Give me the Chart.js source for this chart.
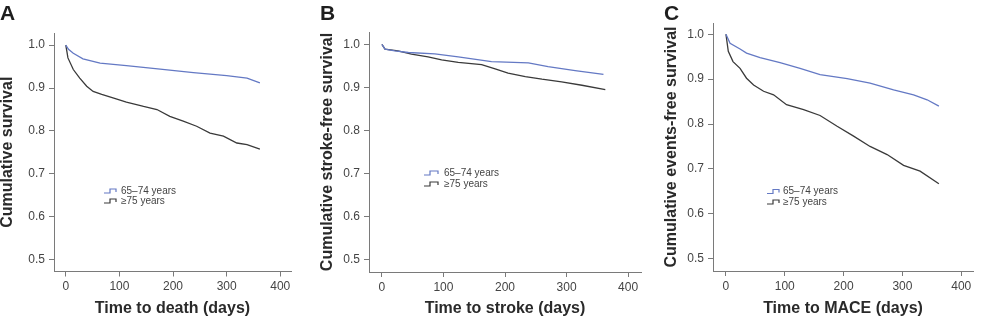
<!DOCTYPE html>
<html>
<head>
<meta charset="utf-8">
<script src="https://cdn.jsdelivr.net/npm/chart.js@4.4.1/dist/chart.umd.min.js"></script>
<style>
  html, body { margin: 0; padding: 0; background: #ffffff; }
  body { width: 982px; height: 324px; position: relative; overflow: hidden; }
  canvas { position: absolute; top: 0; }
</style>
</head>
<body>
<canvas id="cA" width="320" height="324" style="left:0px;width:320px;height:324px"></canvas>
<canvas id="cB" width="330" height="324" style="left:320px;width:330px;height:324px"></canvas>
<canvas id="cC" width="332" height="324" style="left:650px;width:332px;height:324px"></canvas>
<script>
// ---------------- DATA ----------------
const seriesLabels = ['65\u201374 years', '\u226575 years'];
const xTickValues = [0, 100, 200, 300, 400];
const yTickValues = [0.5, 0.6, 0.7, 0.8, 0.9, 1.0];

// Panel A: Time to death
const timeA65 = [0, 5, 14, 32, 64, 113, 176, 238, 300, 338, 362];
const survA65 = [1.0, 0.990, 0.981, 0.968, 0.958, 0.952, 0.944, 0.936, 0.929, 0.923, 0.912];
const timeA75 = [0, 2, 4, 14, 26, 39, 51, 67, 88, 113, 145, 170, 194, 219, 244, 269, 294, 319, 338, 362];
const survA75 = [1.0, 0.985, 0.970, 0.943, 0.923, 0.904, 0.892, 0.885, 0.877, 0.867, 0.857, 0.850, 0.834, 0.823, 0.811, 0.795, 0.788, 0.772, 0.768, 0.758];

// Panel B: Time to stroke
const timeB65 = [0, 5, 21, 43, 86, 124, 178, 238, 270, 314, 360];
const survB65 = [1.0, 0.989, 0.985, 0.981, 0.978, 0.971, 0.960, 0.957, 0.948, 0.939, 0.930];
const timeB75 = [0, 5, 26, 48, 75, 97, 124, 162, 184, 205, 233, 260, 292, 325, 363];
const survB75 = [1.0, 0.989, 0.985, 0.977, 0.971, 0.964, 0.958, 0.953, 0.943, 0.933, 0.925, 0.919, 0.913, 0.905, 0.895];

// Panel C: Time to MACE
const timeC65 = [0, 7, 24, 35, 58, 92, 126, 160, 206, 245, 285, 319, 342, 362];
const survC65 = [1.0, 0.980, 0.967, 0.958, 0.948, 0.937, 0.924, 0.910, 0.901, 0.891, 0.876, 0.865, 0.854, 0.840];
const timeC75 = [0, 4, 12, 24, 35, 47, 64, 81, 103, 132, 160, 189, 217, 245, 274, 302, 330, 362];
const survC75 = [1.0, 0.962, 0.939, 0.924, 0.902, 0.887, 0.873, 0.865, 0.843, 0.832, 0.819, 0.795, 0.773, 0.750, 0.732, 0.708, 0.695, 0.667];

// ---------------- STYLE ----------------
const COLOR_YOUNG = '#6479c4';
const COLOR_OLD = '#3a3a3a';
const AXIS_COLOR = '#7a7a7a';
const TICK_TEXT = '#444444';
const TITLE_TEXT = '#2a2a2a';
const FONT_FAMILY = '"Liberation Sans", Arial, Helvetica, sans-serif';

Chart.defaults.font.family = FONT_FAMILY;
Chart.defaults.color = TICK_TEXT;

function toPoints(t, s) { return t.map((v, i) => ({ x: v, y: s[i] })); }

const panelDecor = {
  id: 'panelDecor',
  afterDraw(chart, args, o) {
    const ctx = chart.ctx;
    ctx.save();
    ctx.fillStyle = '#1e1e1e';
    ctx.font = 'bold 21px ' + FONT_FAMILY;
    ctx.textBaseline = 'alphabetic';
    ctx.textAlign = 'left';
    ctx.fillText(o.letter, o.letterX, o.letterY);
    ctx.font = '10px ' + FONT_FAMILY;
    ctx.textBaseline = 'middle';
    chart.data.datasets.forEach((ds, i) => {
      const x = o.legX, y = o.legY + i * o.legGap;
      ctx.strokeStyle = ds.borderColor;
      ctx.lineWidth = 1.2;
      ctx.beginPath();
      ctx.moveTo(x, y + 2);
      ctx.lineTo(x + 6, y + 2);
      ctx.lineTo(x + 6, y - 2);
      ctx.lineTo(x + o.symW, y - 2);
      ctx.lineTo(x + o.symW, y + 1);
      ctx.stroke();
      ctx.fillStyle = TICK_TEXT;
      ctx.fillText(ds.label, x + o.textOff, y);
    });
    ctx.restore();
  }
};

function makePanel(id, p) {
  const ctx = document.getElementById(id).getContext('2d');
  return new Chart(ctx, {
    type: 'line',
    data: {
      datasets: [
        { label: seriesLabels[0], data: toPoints(p.t65, p.s65), borderColor: COLOR_YOUNG, borderWidth: 1.3, pointRadius: 0, tension: 0, fill: false },
        { label: seriesLabels[1], data: toPoints(p.t75, p.s75), borderColor: COLOR_OLD, borderWidth: 1.3, pointRadius: 0, tension: 0, fill: false }
      ]
    },
    options: {
      responsive: false,
      animation: false,
      events: [],
      layout: { padding: { left: 0, top: p.top, right: p.right, bottom: 0 } },
      plugins: {
        legend: { display: false },
        tooltip: { enabled: false },
        panelDecor: p.decor
      },
      scales: {
        x: {
          type: 'linear',
          min: p.xmin, max: p.xmax,
          afterFit: (s) => { s.height = p.xh; },
          afterBuildTicks: (s) => { s.ticks = xTickValues.map(v => ({ value: v })); },
          ticks: { includeBounds: false, font: { size: 12 }, color: TICK_TEXT, padding: 3, maxRotation: 0, callback: (v) => String(v) },
          grid: { display: true, drawOnChartArea: false, drawTicks: true, tickLength: 5, color: AXIS_COLOR, lineWidth: 1 },
          border: { display: true, color: AXIS_COLOR, width: 1 },
          title: { display: true, text: p.xTitle, color: TITLE_TEXT, font: { size: 16, weight: 'bold', lineHeight: 1 }, padding: { top: 0, bottom: 7 } }
        },
        y: {
          type: 'linear',
          min: p.ymin, max: p.ymax,
          afterFit: (s) => { s.width = p.yw; },
          afterBuildTicks: (s) => { s.ticks = yTickValues.map(v => ({ value: v })); },
          ticks: { includeBounds: false, font: { size: 12 }, color: TICK_TEXT, padding: 4, callback: (v) => Number(v).toFixed(1) },
          grid: { display: true, drawOnChartArea: false, drawTicks: true, tickLength: 5, color: AXIS_COLOR, lineWidth: 1 },
          border: { display: true, color: AXIS_COLOR, width: 1 },
          title: { display: true, text: p.yTitle, color: TITLE_TEXT, font: { size: 16, weight: 'bold', lineHeight: 1 }, padding: { top: p.yTitlePad, bottom: 0 } }
        }
      }
    },
    plugins: [panelDecor]
  });
}

makePanel('cA', {
  t65: timeA65, s65: survA65, t75: timeA75, s75: survA75,
  xmin: -22, xmax: 420, ymin: 0.473, ymax: 1.028,
  top: 33, right: 29, yw: 54, xh: 52.5,
  xTitle: 'Time to death (days)', yTitle: 'Cumulative survival', yTitlePad: 0,
  decor: { letter: 'A', letterX: 0, letterY: 20, legX: 104, legY: 191, legGap: 10, symW: 12, textOff: 17 }
});

makePanel('cB', {
  t65: timeB65, s65: survB65, t75: timeB75, s75: survB75,
  xmin: -21, xmax: 421, ymin: 0.4715, ymax: 1.0286,
  top: 32, right: 9, yw: 49, xh: 52,
  xTitle: 'Time to stroke (days)', yTitle: 'Cumulative stroke-free survival', yTitlePad: 0,
  decor: { letter: 'B', letterX: 0, letterY: 20, legX: 104, legY: 173, legGap: 11, symW: 14, textOff: 20 }
});

makePanel('cC', {
  t65: timeC65, s65: survC65, t75: timeC75, s75: survC75,
  xmin: -22, xmax: 420, ymin: 0.4726, ymax: 1.025,
  top: 23, right: 9, yw: 63, xh: 53,
  xTitle: 'Time to MACE (days)', yTitle: 'Cumulative events-free survival', yTitlePad: 14,
  decor: { letter: 'C', letterX: 14, letterY: 20, legX: 117, legY: 191.5, legGap: 10.5, symW: 12, textOff: 16 }
});
</script>
</body>
</html>
